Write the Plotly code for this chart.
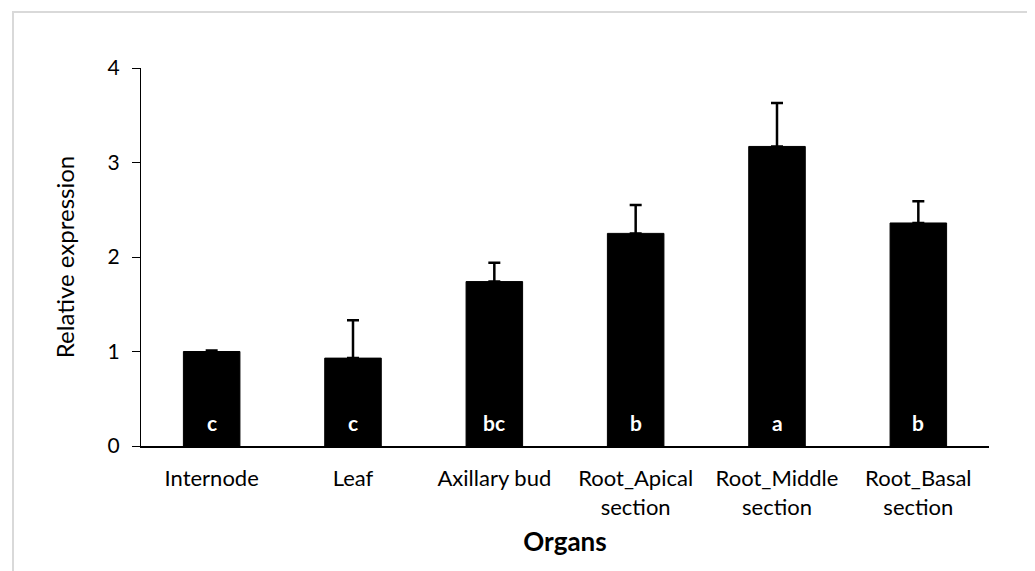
import plotly.graph_objects as go

categories = ["Internode", "Leaf", "Axillary bud", "Root_Apical<br>section",
              "Root_Middle<br>section", "Root_Basal<br>section"]
values = [1.00, 0.93, 1.74, 2.25, 3.17, 2.36]
errors = [0.01, 0.40, 0.20, 0.30, 0.46, 0.23]
letters = ["c", "c", "bc", "b", "a", "b"]
y_ticks = [0, 1, 2, 3, 4]

FONT = "Lato, Open Sans, sans-serif"

fig = go.Figure()
fig.add_trace(go.Bar(
    x=categories, y=values,
    marker=dict(color="black", line=dict(color="black", width=1)),
    width=0.4,
    error_y=dict(type="data", array=errors, symmetric=False, arrayminus=[0]*len(values),
                 color="black", thickness=2.5, width=6, visible=True),
    showlegend=False,
))

for c, l in zip(categories, letters):
    fig.add_annotation(x=c, y=0.25, text="<b>%s</b>" % l, showarrow=False,
                       font=dict(color="white", size=21, family=FONT),
                       xref="x", yref="y")

# page body has an 8px margin; figure is sized/offset to compensate
W, H = 1027, 563
L, R, T, B = 133, 46, 60, 125
pw, ph = W - L - R, H - T - B
# light gray outer border (chart area frame)
fig.add_shape(type="rect", xref="paper", yref="paper",
              x0=(5 - L) / pw, x1=(1023 - L) / pw,
              y0=-(B + 20) / ph, y1=(H - 4 - B) / ph,
              line=dict(color="#d9d9d9", width=2), fillcolor="rgba(0,0,0,0)",
              layer="below")

fig.update_layout(
    width=W, height=H,
    margin=dict(l=L, r=R, t=T, b=B),
    plot_bgcolor="white", paper_bgcolor="white",
    font=dict(family=FONT, size=20, color="black"),
    xaxis=dict(
        showline=True, linecolor="black", linewidth=2,
        ticks="", showgrid=False, zeroline=False,
        tickfont=dict(size=22, family=FONT, color="black"),
        ticklabelstandoff=12,
        title=dict(text="<b>Organs</b>", font=dict(size=26, family=FONT), standoff=14),
    ),
    yaxis=dict(
        range=[0, 4], tickvals=y_ticks, ticktext=[str(v) for v in y_ticks],
        showline=True, linecolor="black", linewidth=1,
        ticks="outside", ticklen=8, tickcolor="black", tickwidth=1,
        showgrid=False, zeroline=False,
        tickfont=dict(size=21, family=FONT, color="black"),
        ticklabelstandoff=8,
        title=dict(text="Relative expression", font=dict(size=24, family=FONT), standoff=26),
    ),
)

fig.write_html("out.html")
